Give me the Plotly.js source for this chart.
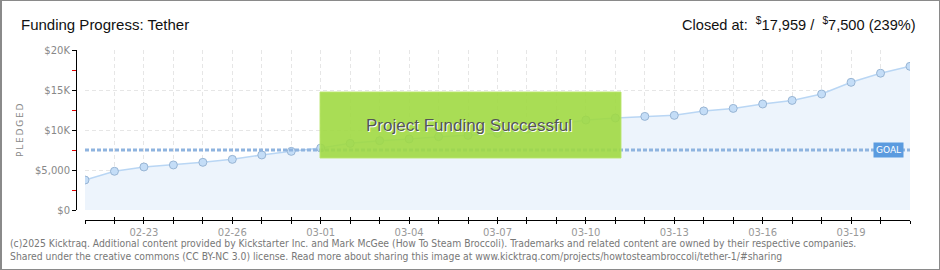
<!DOCTYPE html>
<html>
<head>
<meta charset="utf-8">
<script src="https://cdn.plot.ly/plotly-3.0.1.min.js"></script>
<style>
  html, body { margin: 0; padding: 0; background: #fff; }
  #wrap { position: relative; width: 940px; height: 270px; }
  #chart { position: absolute; left: 0; top: 0; width: 940px; height: 270px; }
  #frame { position: absolute; left: 0; top: 0; width: 940px; height: 270px; box-sizing: border-box;
           border: 1px solid #8a8a8a; border-left-width: 2px; pointer-events: none; }
</style>
</head>
<body>
<div id="wrap"><div id="chart"></div><div id="frame"></div></div>
<script>
const dates = ['2025-02-21','2025-02-22','2025-02-23','2025-02-24','2025-02-25','2025-02-26','2025-02-27','2025-02-28',
  '2025-03-01','2025-03-02','2025-03-03','2025-03-04','2025-03-05','2025-03-06','2025-03-07','2025-03-08','2025-03-09',
  '2025-03-10','2025-03-11','2025-03-12','2025-03-13','2025-03-14','2025-03-15','2025-03-16','2025-03-17','2025-03-18',
  '2025-03-19','2025-03-20','2025-03-21'];
const pledged = [3750, 4840, 5380, 5630, 5960, 6330, 6880, 7330, 7750, 8330, 8670, 8880, 9170, 9330, 9580,
  10100, 10700, 11250, 11500, 11700, 11830, 12380, 12700, 13250, 13700, 14500, 15960, 17100, 17959];
const goal = 7500;
const xTickVals = ['2025-02-23', '2025-02-26', '2025-03-01', '2025-03-04', '2025-03-07', '2025-03-10',
  '2025-03-13', '2025-03-16', '2025-03-19'];
const xTickText = ['02-23', '02-26', '03-01', '03-04', '03-07', '03-10', '03-13', '03-16', '03-19'];
const yTickVals = [0, 5000, 10000, 15000, 20000];
const yTickText = ['$0', '$5,000', '$10K', '$15K', '$20K'];
const yMinorVals = [2500, 7500, 12500, 17500];
const titleText = 'Funding Progress: Tether';
const closedText = 'Closed at:  <sup>$</sup>17,959 /  <sup>$</sup>7,500 (239%)';
const bannerText = 'Project Funding Successful';
const yTitle = 'P\u2009L\u2009E\u2009D\u2009G\u2009E\u2009D';
const footer1 = '(c)2025 Kicktraq. Additional content provided by Kickstarter Inc. and Mark McGee (How To Steam Broccoli). Trademarks and related content are owned by their respective companies.';
const footer2 = 'Shared under the creative commons (CC BY-NC 3.0) license. Read more about sharing this image at www.kicktraq.com/projects/howtosteambroccoli/tether-1/#sharing';

const trace = {
  x: dates, y: pledged, type: 'scatter', mode: 'lines+markers',
  fill: 'tozeroy', fillcolor: '#edf4fc',
  line: { color: '#b9d6f4', width: 1.5 },
  marker: { size: 8, color: '#c4ddf7', line: { color: '#98b5d4', width: 1 } },
  hoverinfo: 'skip', showlegend: false
};
const trace2 = { x: [dates[0]], y: [0], xaxis: 'x2', yaxis: 'y', mode: 'markers', marker: {opacity: 0}, showlegend: false, hoverinfo: 'skip' };

const PW = 834, PH = 170; // paper size in px (x 76..910, y 50..220)
const px = v => (v - 76) / PW;
const py = v => (220 - v) / PH;
const DAY = 86400000;

const layout = {
  width: 940, height: 270,
  margin: { l: 76, r: 30, t: 50, b: 50, pad: 0 },
  paper_bgcolor: 'rgba(0,0,0,0)', plot_bgcolor: 'rgba(0,0,0,0)',
  xaxis: {
    type: 'date', domain: [9 / PW, 1], range: [dates[0], dates[dates.length - 1]],
    anchor: 'free', position: 0,
    tickmode: 'array', tickvals: xTickVals, ticktext: xTickText,
    ticks: 'outside', ticklen: 3, tickwidth: 1, tickcolor: '#000',
    showline: true, linecolor: '#000', linewidth: 1,
    showgrid: true, gridcolor: '#e6e6e6', griddash: '4px,3px', gridwidth: 1,
    zeroline: false,
    minor: { tickmode: 'linear', tick0: dates[0], dtick: DAY, ticks: 'outside', ticklen: 3, tickcolor: '#000',
             showgrid: true, gridcolor: '#e6e6e6', griddash: '4px,3px', gridwidth: 1 },
    tickfont: { family: 'DejaVu Sans', size: 10, color: '#999' }
  },
  xaxis2: {
    type: 'date', domain: [9 / PW, 1], range: [dates[0], dates[dates.length - 1]],
    overlaying: 'x', anchor: 'free', position: 0,
    tickmode: 'linear', tick0: dates[0], dtick: DAY,
    ticks: 'inside', ticklen: 3, tickwidth: 1, tickcolor: '#000',
    showline: false, showgrid: false, zeroline: false, showticklabels: false
  },
  yaxis: {
    domain: [10 / PH, 1], range: [0, 20000], anchor: 'free', position: 0,
    tickmode: 'array', tickvals: yTickVals, ticktext: yTickText,
    ticks: 'outside', ticklen: 4, tickwidth: 1, tickcolor: '#000',
    showline: true, linecolor: '#000', linewidth: 1,
    showgrid: true, gridcolor: '#e6e6e6', griddash: '4px,3px', gridwidth: 1,
    zeroline: false,
    minor: { tickmode: 'array', tickvals: yMinorVals, ticks: 'outside', ticklen: 4, tickcolor: '#e00000', showgrid: false },
    tickfont: { family: 'DejaVu Sans', size: 10, color: '#888' }
  },
  shapes: [
    { type: 'line', xref: 'x', yref: 'y', x0: dates[0], x1: dates[dates.length - 1], y0: goal, y1: goal,
      line: { color: '#8fb4df', width: 3, dash: '4px,2px' }, layer: 'above' },
    { type: 'rect', xref: 'paper', yref: 'paper', x0: px(320), x1: px(621), y0: py(158), y1: py(92),
      fillcolor: 'rgba(160,217,66,0.9)', line: { color: 'rgba(185,230,110,0.9)', width: 1 }, layer: 'above' }
  ],
  annotations: [
    { text: titleText, xref: 'paper', yref: 'paper', x: px(19), y: py(24), xanchor: 'left', yanchor: 'middle',
      showarrow: false, font: { family: 'Liberation Sans', size: 15, color: '#111' } },
    { text: closedText, xref: 'paper', yref: 'paper', x: px(918), y: py(24), xanchor: 'right', yanchor: 'middle',
      showarrow: false, font: { family: 'Liberation Sans', size: 14.6, color: '#111' } },
    { text: yTitle, xref: 'paper', yref: 'paper', x: px(20), y: py(130), textangle: -90,
      xanchor: 'center', yanchor: 'middle', showarrow: false,
      font: { family: 'DejaVu Sans', size: 9, color: '#888' } },
    { text: bannerText, xref: 'paper', yref: 'paper', x: px(469), y: py(125), xanchor: 'center', yanchor: 'middle',
      showarrow: false, font: { family: 'Liberation Sans', size: 17, color: '#555', shadow: '1px 1px 0px #ffffff' } },
    { text: 'GOAL', xref: 'paper', yref: 'y', x: px(888), y: goal, xanchor: 'center', yanchor: 'middle',
      showarrow: false, bgcolor: '#5b9bdf', borderpad: 2,
      font: { family: 'DejaVu Sans', size: 9, color: '#fff' } },
    { text: footer1, xref: 'paper', yref: 'paper', x: px(8), y: py(243), xanchor: 'left', yanchor: 'middle',
      showarrow: false, font: { family: 'DejaVu Sans Condensed', size: 10.3, color: '#777' } },
    { text: footer2, xref: 'paper', yref: 'paper', x: px(8), y: py(256), xanchor: 'left', yanchor: 'middle',
      showarrow: false, font: { family: 'DejaVu Sans Condensed', size: 10.3, color: '#777' } }
  ]
};

Plotly.newPlot('chart', [trace, trace2], layout, { staticPlot: true, displayModeBar: false });
</script>
</body>
</html>
